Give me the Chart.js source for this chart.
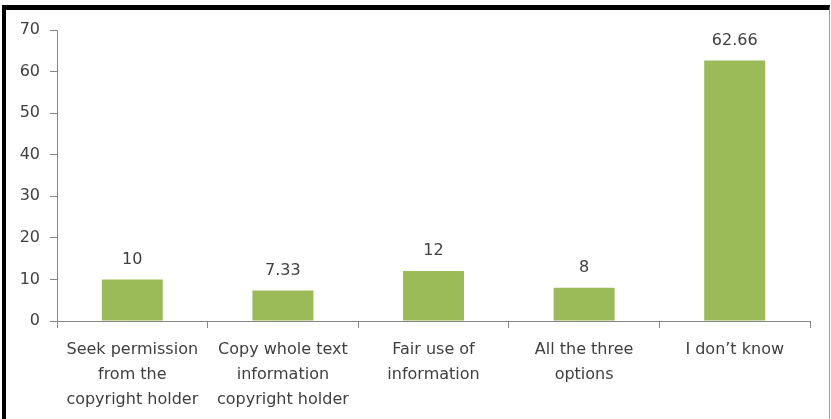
<!DOCTYPE html>
<html>
<head>
<meta charset="utf-8">
<script src="https://cdn.jsdelivr.net/npm/chart.js@4"></script>
<style>
    body { margin: 0; background: #fff; }
    #wrap { position: relative; width: 831px; height: 419px; overflow: hidden; }
    #frame {
        position: absolute; left: 2px; top: 5px; width: 828px; height: 500px;
        box-sizing: border-box; pointer-events: none;
        border-left: 4px solid #000; border-top: 5px solid #000; border-right: 1px solid #999;
    }
</style>
</head>
<body>
<div id="wrap">
    <canvas id="barChart" width="831" height="419"></canvas>
    <div id="frame"></div>
</div>
<script>
// chart data
const categories = [
    ['Seek permission', 'from the', 'copyright holder'],
    ['Copy whole text', 'information', 'copyright holder'],
    ['Fair use of', 'information'],
    ['All the three', 'options'],
    ['I don’t know']
];
const percentages = [10, 7.33, 12, 8, 62.66];
const yTicks = { min: 0, max: 70, step: 10 };

const textColor = '#404040';
const axisColor = '#868686';
const fontFamily = '"DejaVu Sans", sans-serif';

// draw the value above every bar
const barLabels = {
    id: 'barLabels',
    afterDatasetsDraw(chart) {
        const ctx = chart.ctx;
        const meta = chart.getDatasetMeta(0);
        ctx.save();
        ctx.font = '16px ' + fontFamily;
        ctx.fillStyle = textColor;
        ctx.textAlign = 'center';
        ctx.textBaseline = 'middle';
        meta.data.forEach((bar, i) => {
            ctx.fillText(String(percentages[i]), bar.x, bar.y - 20);
        });
        ctx.restore();
    }
};

var barChart = new Chart(document.getElementById('barChart'), {
    type: 'bar',
    data: {
        labels: categories,
        datasets: [{
            data: percentages,
            backgroundColor: '#9BBB59',
            borderWidth: 0,
            barPercentage: 0.405,
            categoryPercentage: 1
        }]
    },
    options: {
        responsive: false,
        animation: false,
        layout: {
            padding: { top: 30, right: 21, left: 0, bottom: 0 }
        },
        plugins: {
            legend: { display: false },
            tooltip: { enabled: false }
        },
        scales: {
            x: {
                grid: {
                    drawOnChartArea: false,
                    drawTicks: true,
                    tickLength: 7,
                    color: axisColor,
                    offset: true
                },
                border: { color: axisColor },
                ticks: {
                    color: textColor,
                    font: { family: fontFamily, size: 16, lineHeight: 1.5625 },
                    padding: 9,
                    maxRotation: 0,
                    autoSkip: false
                },
                afterFit: scale => { scale.height = 98; }
            },
            y: {
                min: yTicks.min,
                max: yTicks.max,
                grid: {
                    drawOnChartArea: false,
                    drawTicks: true,
                    tickLength: 7,
                    color: axisColor
                },
                border: { color: axisColor },
                ticks: {
                    stepSize: yTicks.step,
                    color: textColor,
                    font: { family: fontFamily, size: 16 },
                    padding: 10
                },
                afterFit: scale => { scale.width = 57; }
            }
        }
    },
    plugins: [barLabels]
});
</script>
</body>
</html>
